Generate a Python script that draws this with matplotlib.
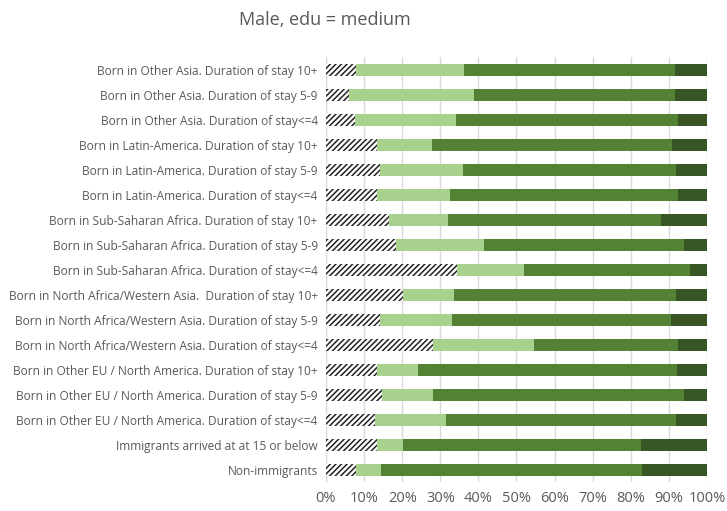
import matplotlib
matplotlib.use("Agg")
import matplotlib.pyplot as plt
import numpy as np

categories = [
    "Non-immigrants",
    "Immigrants arrived at at 15 or below",
    "Born in Other EU / North America. Duration of stay<=4",
    "Born in Other EU / North America. Duration of stay 5-9",
    "Born in Other EU / North America. Duration of stay 10+",
    "Born in North Africa/Western Asia. Duration of stay<=4",
    "Born in North Africa/Western Asia. Duration of stay 5-9",
    "Born in North Africa/Western Asia.  Duration of stay 10+",
    "Born in Sub-Saharan Africa. Duration of stay<=4",
    "Born in Sub-Saharan Africa. Duration of stay 5-9",
    "Born in Sub-Saharan Africa. Duration of stay 10+",
    "Born in Latin-America. Duration of stay<=4",
    "Born in Latin-America. Duration of stay 5-9",
    "Born in Latin-America. Duration of stay 10+",
    "Born in Other Asia. Duration of stay<=4",
    "Born in Other Asia. Duration of stay 5-9",
    "Born in Other Asia. Duration of stay 10+",
]

# shares (fractions) per segment
seg1 = [0.079, 0.134, 0.129, 0.147, 0.134, 0.281, 0.142, 0.202, 0.344, 0.184, 0.165, 0.134, 0.142, 0.134, 0.077, 0.061, 0.079]
seg2 = [0.065, 0.068, 0.186, 0.134, 0.108, 0.265, 0.189, 0.134, 0.176, 0.231, 0.155, 0.192, 0.218, 0.144, 0.265, 0.328, 0.284]
seg3 = [0.686, 0.625, 0.604, 0.659, 0.680, 0.379, 0.575, 0.583, 0.436, 0.525, 0.560, 0.599, 0.559, 0.631, 0.583, 0.528, 0.554]
seg4 = [1 - a - b - c for a, b, c in zip(seg1, seg2, seg3)]

xticks = [0, 0.1, 0.2, 0.3, 0.4, 0.5, 0.6, 0.7, 0.8, 0.9, 1.0]
xticklabels = ["0%", "10%", "20%", "30%", "40%", "50%", "60%", "70%", "80%", "90%", "100%"]

plt.rcParams['hatch.linewidth'] = 1.1
plt.rcParams['font.family'] = ['Open Sans', 'DejaVu Sans']

fig = plt.figure(figsize=(7.27, 5.11), dpi=100)
ax = fig.add_axes([0.4484, 0.0558, 0.5241, 0.8317])

y = np.arange(len(categories))
h = 0.45
left = np.zeros(len(categories))
ax.barh(y, seg1, left=left, height=h, color="white", edgecolor="#222222",
        hatch="//////", linewidth=0, zorder=3)
left += np.array(seg1)
ax.barh(y, seg2, left=left, height=h, color="#A9D18E", linewidth=0, zorder=3)
left += np.array(seg2)
ax.barh(y, seg3, left=left, height=h, color="#548235", linewidth=0, zorder=3)
left += np.array(seg3)
ax.barh(y, seg4, left=left, height=h, color="#375623", linewidth=0, zorder=3)

ax.set_xlim(0, 1)
ax.set_ylim(-0.5, len(categories) - 0.5)
ax.set_xticks(xticks)
ax.set_xticklabels(xticklabels, fontsize=10.5, color="#595959")
ax.set_yticks(y)
ax.set_yticklabels(categories, fontsize=8.55, color="#595959")
ax.tick_params(axis="x", length=0, pad=6)
ax.tick_params(axis="y", length=0, pad=6)
ax.grid(axis="x", color="#d9d9d9", linewidth=1, zorder=0)
for s in ["top", "right", "bottom"]:
    ax.spines[s].set_visible(False)
ax.spines["left"].set_color("#d9d9d9")

fig.text(0.447, 0.96, "Male, edu = medium", ha="center", va="center",
         fontsize=13, color="#595959")

fig.savefig("out.png", dpi=100)
